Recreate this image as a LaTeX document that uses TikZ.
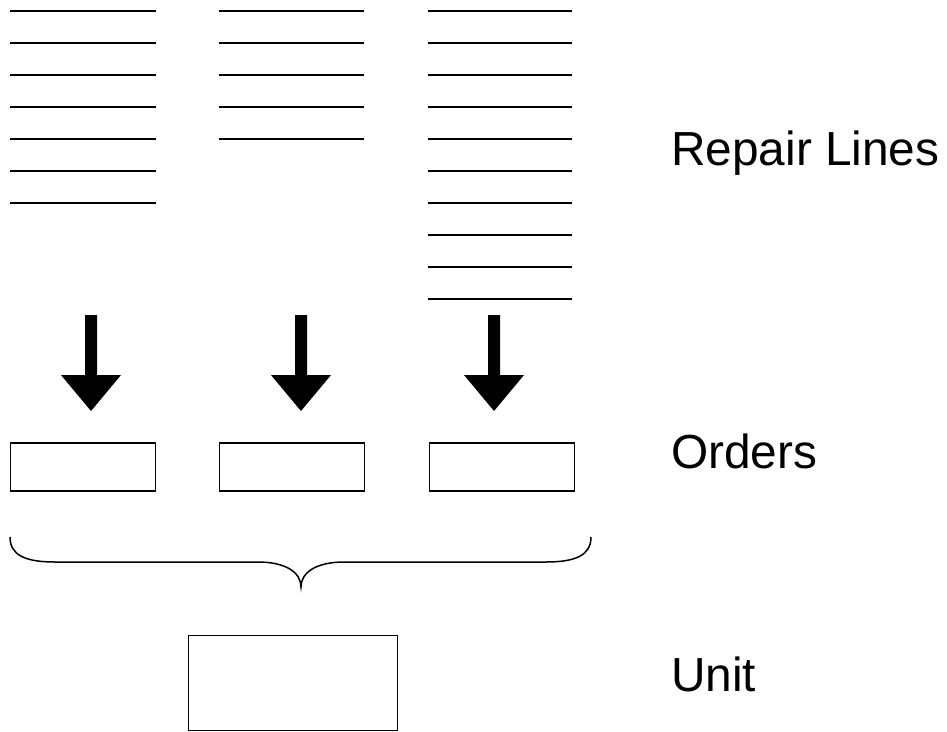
\documentclass[tikz,border=0pt]{standalone}
\usepackage{fontspec}
\setmainfont{Liberation Sans}
\begin{document}
\begin{tikzpicture}[x=1pt,y=-1pt,
  rline/.style={line width=2.2pt},
  orderbox/.style={draw,line width=1.5pt,minimum width=145pt,minimum height=48pt,inner sep=0pt},
  unitbox/.style={draw,line width=1.5pt,minimum width=209pt,minimum height=95pt,inner sep=0pt},
  label/.style={anchor=base west,inner sep=0pt,font=\fontsize{47.8}{57}\selectfont},
  blockarrow/.style={fill=black}]
\useasboundingbox (0,0) rectangle (947,731);

% repair lines, three columns
\foreach \y in {11,43,75,107,139,171,203}
  \draw[rline] (10,\y) -- (156,\y);
\foreach \y in {11,43,75,107,139}
  \draw[rline] (219,\y) -- (364,\y);
\foreach \y in {11,43,75,107,139,171,203,235,267,299}
  \draw[rline] (428,\y) -- (572,\y);

% orders
\node[orderbox] (o1) at (83,467) {};
\node[orderbox] (o2) at (292,467) {};
\node[orderbox] (o3) at (502,467) {};

% block arrows above each order
\foreach \cx/\n in {91/a1,301/a2,494/a3}{
  \coordinate (\n) at (\cx,411);
  \fill[blockarrow] (\cx-6,315) -- (\cx+6,315) -- (\cx+6,375) -- (\cx+30,375)
    -- (\n) -- (\cx-30,375) -- (\cx-6,375) -- cycle;
}

% brace gathering the orders
\coordinate (bl) at (10,537);
\coordinate (br) at (591,537);
\coordinate (bt) at (301,587);
\draw[line width=1.5pt] (bl) .. controls (10,555) and (25,562) .. (55,562)
  -- (258,562) .. controls (285,562) and (301,572) .. (bt)
  .. controls (301,572) and (317,562) .. (344,562)
  -- (546,562) .. controls (576,562) and (591,555) .. (br);

% unit
\node[unitbox] (unit) at (293,683) {};

% row labels
\node[label] (lrep) at (671,165) {Repair Lines};
\node[label] (lord) at (671,468) {Orders};
\node[label] (luni) at (671,691) {Unit};
\end{tikzpicture}
\end{document}
